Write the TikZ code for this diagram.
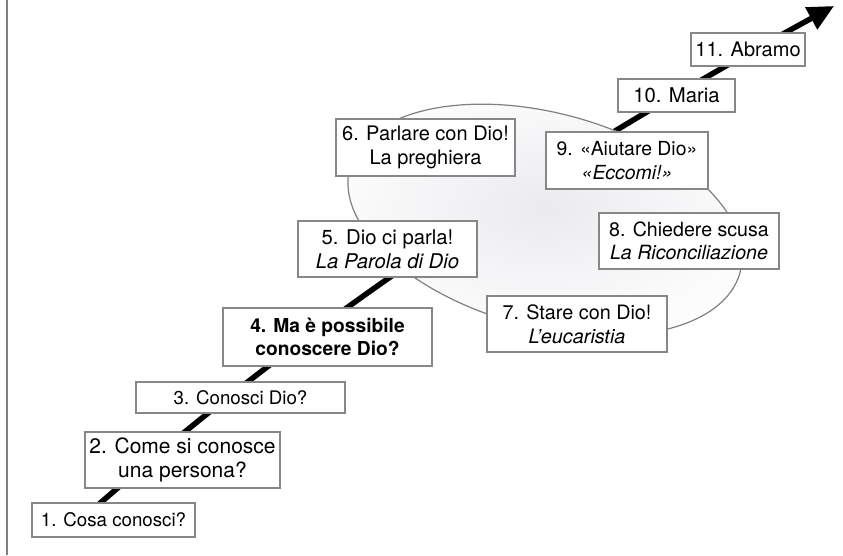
\documentclass[tikz,border=0pt]{standalone}
\usepackage{fontspec}
\setmainfont{TeX Gyre Heros}
\usetikzlibrary{arrows.meta}
\definecolor{boxgray}{RGB}{135,135,135}
\definecolor{leftgray}{RGB}{128,128,128}
\definecolor{ellgray}{RGB}{128,128,132}
\definecolor{ellin}{RGB}{235,235,238}
\definecolor{ellout}{RGB}{252,252,253}
\newcommand{\fs}[1]{\fontsize{#1}{23.5}\selectfont}
\begin{document}
\begin{tikzpicture}[x=1pt,y=-1pt,
  box/.style={draw=boxgray, line width=1.4pt, fill=white, align=center, inner sep=0pt,
    font=\fs{19.5}},
]
\useasboundingbox (0,0) rectangle (843,555);
\draw[line width=2pt, leftgray] (7,0) -- (7,555);
\coordinate (s) at (90,512);
\coordinate (e) at (834,6);
\draw[line width=5.5pt, -{Triangle[length=26pt,width=24pt]}] (s) .. controls (335,297) and (585,142) .. (e);
\draw[ellgray, line width=1.2pt, inner color=ellin, outer color=ellout, rotate around={-15:(545,220)}] (545,220) ellipse [x radius=202pt, y radius=107pt];
\node[box, minimum width=163pt, minimum height=34pt, font=\fs{18.7}] (b1) at (113.5,520) {1. Cosa conosci?};
\node[box, minimum width=195pt, minimum height=56pt, font=\fs{21}] (b2) at (182.5,460) {2. Come si conosce\\una persona?};
\node[box, minimum width=209pt, minimum height=31pt, font=\fs{18.7}] (b3) at (240.5,397.5) {3. Conosci Dio?};
\node[box, minimum width=209pt, minimum height=58pt, font=\fs{19.2}\bfseries] (b4) at (327.5,337) {4. Ma è possibile\\conoscere Dio?};
\node[box, minimum width=179pt, minimum height=56pt, font=\fs{20.3}] (b5) at (387.5,249) {5. Dio ci parla!\\\textit{La Parola di Dio}};
\node[box, minimum width=179pt, minimum height=57pt, font=\fs{20}] (b6) at (425.5,147.5) {6. Parlare con Dio!\\La preghiera};
\node[box, minimum width=180pt, minimum height=56pt, font=\fs{19.8}] (b7) at (577,324) {7. Stare con Dio!\\\textit{L’eucaristia}};
\node[box, minimum width=180pt, minimum height=56pt, font=\fs{19.6}] (b8) at (689,241) {8. Chiedere scusa\\\textit{La Riconciliazione}};
\node[box, minimum width=162pt, minimum height=57pt, font=\fs{19.4}] (b9) at (627,160.5) {9. «Aiutare Dio»\\\textit{«Eccomi!»}};
\node[box, minimum width=117pt, minimum height=33pt, font=\fs{20.3}] (b10) at (676.5,95.5) {10. Maria};
\node[box, minimum width=114pt, minimum height=33pt, font=\fs{20}] (b11) at (748,49.5) {11. Abramo};
\end{tikzpicture}
\end{document}
